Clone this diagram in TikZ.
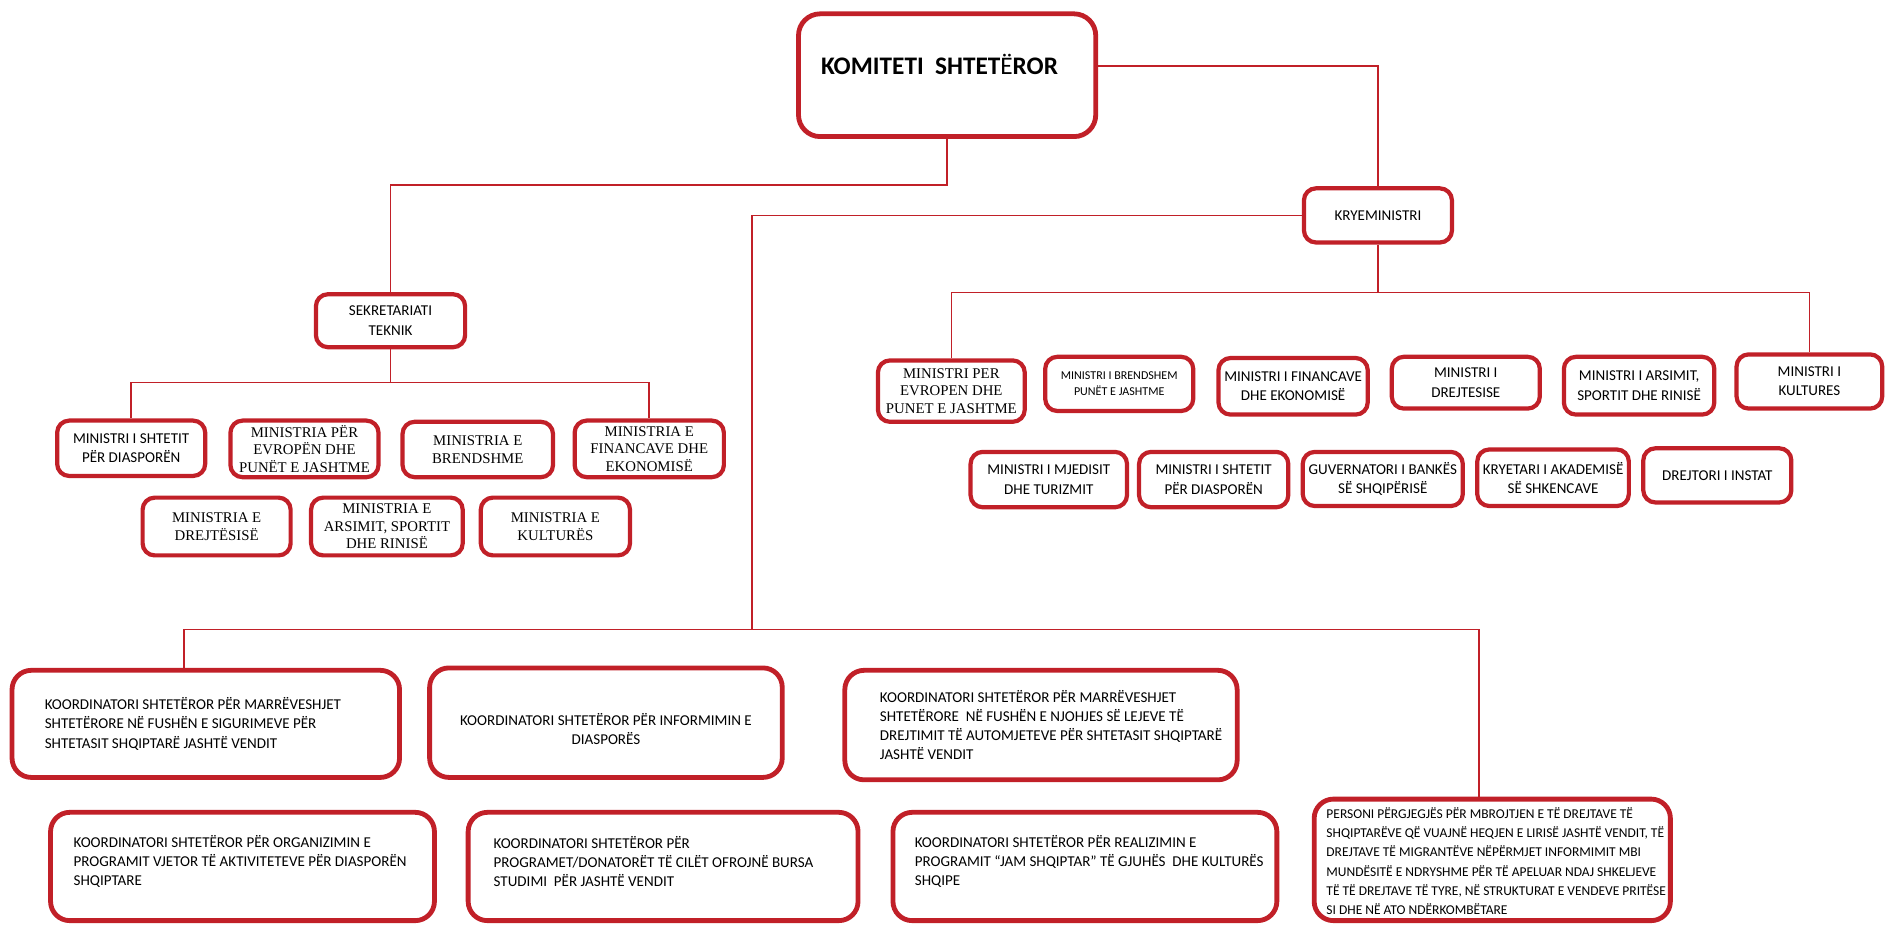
\documentclass[tikz,border=0pt]{standalone}
\usepackage{fontspec}
\setmainfont{Carlito}
\newfontfamily\timesfam{Liberation Serif}
\usetikzlibrary{positioning}
\definecolor{orgred}{RGB}{193,32,40}

\tikzset{
  orgbox/.style={draw=orgred, line width=3.5pt, rounded corners=10pt, fill=white, align=center, inner sep=1pt, font=\fontsize{12.5}{16}\selectfont},
  serifbox/.style={orgbox, font=\timesfam\fontsize{12.3}{14.5}\selectfont},
  koordbox/.style={orgbox, line width=4pt, rounded corners=16pt},
  koordtext/.style={align=left, inner sep=0pt, font=\fontsize{12.5}{16}\selectfont},
  link/.style={draw=orgred, line width=1.3pt},
}

\begin{document}
\begin{tikzpicture}[x=1pt, y=-1pt]
    \useasboundingbox (0,0) rectangle (1568,770);

    % Komiteti
    \node[koordbox, rounded corners=18pt, minimum width=247pt, minimum height=102pt] (komitet) at (787,62.5) {};
    \node[anchor=base west, inner sep=0pt, font=\bfseries\fontsize{21}{24}\selectfont] (komitettxt) at (682,62) {KOMITETI\ \ SHTET{\mdseries Ë}ROR};

    % Kryeministri dhe sekretariati
    \node[orgbox, minimum width=123pt, minimum height=45pt] (kryemin) at (1145,179) {\raisebox{-3pt}{KRYEMINISTRI}};
    \node[orgbox, minimum width=124pt, minimum height=44pt] (sekret) at (324.5,266.5) {SEKRETARIATI\\TEKNIK};

    % Ministrite e sekretariatit
    \node[orgbox, minimum width=123pt, minimum height=46pt] (s1) at (109,372.5) {MINISTRI I SHTETIT\\PËR DIASPORËN};
    \node[serifbox, minimum width=123pt, minimum height=47pt] (s2) at (253,373) {MINISTRIA PËR\\EVROPËN DHE\\PUNËT E JASHTME};
    \node[serifbox, minimum width=125pt, minimum height=46pt] (s3) at (397,373.5) {MINISTRIA E\\BRENDSHME};
    \node[serifbox, minimum width=124pt, minimum height=47pt] (s4) at (539.5,373) {MINISTRIA E\\FINANCAVE DHE\\EKONOMISË};
    \node[serifbox, minimum width=123pt, minimum height=48pt] (s5) at (180,437.5) {MINISTRIA E\\DREJTËSISË};
    \node[serifbox, minimum width=126pt, minimum height=48pt] (s6) at (321.5,437.5) {MINISTRIA E\\ARSIMIT, SPORTIT\\DHE RINISË};
    \node[serifbox, minimum width=124pt, minimum height=48pt] (s7) at (461.5,437.5) {MINISTRIA E\\KULTURËS};

    % Ministrat e kryeministrit
    \node[serifbox, minimum width=122pt, minimum height=51pt] (m1) at (790.5,325) {MINISTRI PER\\EVROPEN DHE\\PUNET E JASHTME};
    \node[orgbox, minimum width=123pt, minimum height=45pt, font=\fontsize{10}{13}\selectfont] (m2) at (930,319) {MINISTRI I BRENDSHEM\\PUNËT E JASHTME};
    \node[orgbox, minimum width=124pt, minimum height=47pt] (m3) at (1074.5,321) {MINISTRI I FINANCAVE\\DHE EKONOMISË};
    \node[orgbox, minimum width=123pt, minimum height=43pt] (m4) at (1218,318) {MINISTRI I\\DREJTESISE};
    \node[orgbox, minimum width=125pt, minimum height=48pt] (m5) at (1362,320.5) {MINISTRI I ARSIMIT,\\SPORTIT DHE RINISË};
    \node[orgbox, minimum width=121pt, minimum height=45pt] (m6) at (1503.5,317) {MINISTRI I\\KULTURES};
    \node[orgbox, minimum width=130pt, minimum height=46pt] (m7) at (871.5,398.5) {MINISTRI I MJEDISIT\\DHE TURIZMIT};
    \node[orgbox, minimum width=124pt, minimum height=46pt] (m8) at (1008.5,398.5) {MINISTRI I SHTETIT\\PËR DIASPORËN};
    \node[orgbox, minimum width=133pt, minimum height=45pt] (m9) at (1149,398) {GUVERNATORI I BANKËS\\SË SHQIPËRISË};
    \node[orgbox, minimum width=126pt, minimum height=47pt] (m10) at (1290.5,397) {KRYETARI I AKADEMISË\\SË SHKENCAVE};
    \node[orgbox, minimum width=123pt, minimum height=45pt] (m11) at (1427,395) {DREJTORI I INSTAT};

    % Koordinatoret
    \node[koordbox, minimum width=322pt, minimum height=89pt] (k1) at (171,601.5) {};
    \node[koordtext, right=29pt of k1.west] (k1txt) {KOORDINATORI SHTETËROR PËR MARRËVESHJET\\SHTETËRORE NË FUSHËN E SIGURIMEVE PËR\\SHTETASIT SHQIPTARË JASHTË VENDIT};
    \node[koordbox, minimum width=293pt, minimum height=91pt] (k2) at (503.5,600.5) {};
    \node[koordtext, align=center, below=-8pt of k2.center] (k2txt) {KOORDINATORI SHTETËROR PËR INFORMIMIN E\\DIASPORËS};
    \node[koordbox, minimum width=326pt, minimum height=91pt] (k3) at (865,602.5) {};
    \node[koordtext, right=31pt of k3.west] (k3txt) {KOORDINATORI SHTETËROR PËR MARRËVESHJET\\SHTETËRORE\ \ NË FUSHËN E NJOHJES SË LEJEVE TË\\DREJTIMIT TË AUTOMJETEVE PËR SHTETASIT SHQIPTARË\\JASHTË VENDIT};
    \node[koordbox, minimum width=319pt, minimum height=90pt] (k4) at (201.5,720) {};
    \node[koordtext, right=21pt of k4.west, yshift=4pt] (k4txt) {KOORDINATORI SHTETËROR PËR ORGANIZIMIN E\\PROGRAMIT VJETOR TË AKTIVITETEVE PËR DIASPORËN\\SHQIPTARE};
    \node[koordbox, minimum width=324pt, minimum height=90pt] (k5) at (551,720) {};
    \node[koordtext, right=23pt of k5.west, yshift=4pt] (k5txt) {KOORDINATORI SHTETËROR PËR\\PROGRAMET/DONATORËT TË CILËT OFROJNË BURSA\\STUDIMI\ \ PËR JASHTË VENDIT};
    \node[koordbox, minimum width=319pt, minimum height=90pt] (k6) at (901.5,720) {};
    \node[koordtext, right=20pt of k6.west, yshift=4pt] (k6txt) {KOORDINATORI SHTETËROR PËR REALIZIMIN E\\PROGRAMIT “JAM SHQIPTAR” TË GJUHËS\ \ DHE KULTURËS\\SHQIPE};
    \node[koordbox, minimum width=296pt, minimum height=101pt] (personi) at (1240,714.5) {};
    \node[koordtext, right=12pt of personi.west, yshift=-1pt, font=\fontsize{11.2}{16}\selectfont] (personitxt) {PERSONI PËRGJEGJËS PËR MBROJTJEN E TË DREJTAVE TË\\SHQIPTARËVE QË VUAJNË HEQJEN E LIRISË JASHTË VENDIT, TË\\DREJTAVE TË MIGRANTËVE NËPËRMJET INFORMIMIT MBI\\MUNDËSITË E NDRYSHME PËR TË APELUAR NDAJ SHKELJEVE\\TË TË DREJTAVE TË TYRE, NË STRUKTURAT E VENDEVE PRITËSE\\SI DHE NË ATO NDËRKOMBËTARE};

    % Lidhjet
    \coordinate (mbus) at (1147,243);
    \coordinate (sbus) at (324.5,318);
    \coordinate (kbus) at (625,523);
    \coordinate (kleft) at (153,523);
    \coordinate (kright) at (1229,523);

    \draw[link] ([yshift=7.5pt]komitet.east) -| (kryemin.north);
    \draw[link] (komitet.south) -- ++(0,38) -| (sekret.north);
    \draw[link] (sekret.south) -- (sbus);
    \draw[link] (s1.north) |- (sbus) -| (s4.north);
    \draw[link] (kryemin.south) -- (kryemin.south |- mbus);
    \draw[link] (m1.north) |- (mbus) -| (m6.north);
    \draw[link] (kryemin.west) -| (kbus);
    \draw[link] (kleft |- k1.north) -- (kleft) -- (kright) -- (kright |- personi.north);
\end{tikzpicture}
\end{document}
